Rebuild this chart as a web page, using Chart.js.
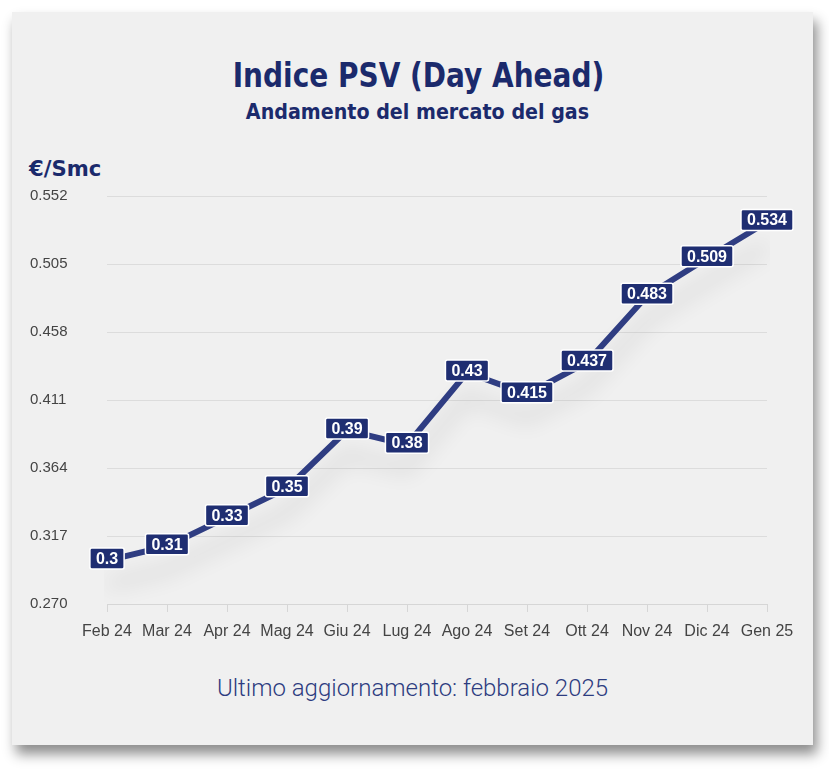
<!DOCTYPE html>
<html>
<head>
<meta charset="utf-8">
<script src="https://cdn.jsdelivr.net/npm/chart.js@4/dist/chart.umd.min.js"></script>
<style>
  body { margin: 0; background: #fff; width: 829px; height: 770px; overflow: hidden; }
  #card { position: absolute; left: 12px; top: 12px; width: 801px; height: 733px; background: #f0f0f0;
          box-shadow: 4px 9px 12px rgba(0,0,0,0.45); }
  .t { position: absolute; white-space: nowrap; color: #1b2a6c; }
  #title { left: 6px; width: 801px; text-align: center; top: 46px; font: bold 34px/34px "DejaVu Sans Condensed";
           transform: scaleX(0.915); }
  #subtitle { left: 5px; width: 801px; text-align: center; top: 89px; font: bold 22px/22px "DejaVu Sans Condensed";
              transform: scaleX(0.965); }
  #unit { left: 17px; top: 147px; font: bold 21px/21px "DejaVu Sans Condensed"; transform-origin: 0 0; transform: scaleX(1.12); }
  #footer { left: 0; width: 801px; text-align: center; top: 664px; font: 300 24px/24px Roboto; color: #2d3c80; }
  #chart { position: absolute; left: 0; top: 168px; }
</style>
</head>
<body>
<div id="card">
  <div class="t" id="title">Indice PSV (Day Ahead)</div>
  <div class="t" id="subtitle">Andamento del mercato del gas</div>
  <div class="t" id="unit">€/Smc</div>
  <canvas id="chart" width="800" height="470"></canvas>
  <div class="t" id="footer">Ultimo aggiornamento: febbraio 2025</div>
</div>
<script>
// dati
const mesi = ["Feb 24", "Mar 24", "Apr 24", "Mag 24", "Giu 24", "Lug 24", "Ago 24", "Set 24", "Ott 24", "Nov 24", "Dic 24", "Gen 25"];
const psv = [0.3, 0.31, 0.33, 0.35, 0.39, 0.38, 0.43, 0.415, 0.437, 0.483, 0.509, 0.534];
const yTicks = [0.270, 0.317, 0.364, 0.411, 0.458, 0.505, 0.552];

// ombra sotto la linea
const lineShadow = {
  id: 'lineShadow',
  beforeDatasetsDraw(chart) {
    const ctx = chart.ctx;
    ctx.save();
    ctx.shadowColor = 'rgba(0,0,0,0.16)';
    ctx.shadowBlur = 22;
    ctx.shadowOffsetY = 24;
  },
  afterDatasetsDraw(chart) {
    chart.ctx.restore();
  }
};

// etichette dei valori
const valueLabels = {
  id: 'valueLabels',
  afterDraw(chart) {
    const ctx = chart.ctx;
    const meta = chart.getDatasetMeta(0);
    ctx.save();
    ctx.font = 'bold 16px "Liberation Sans", Arial, sans-serif';
    ctx.textAlign = 'center';
    ctx.textBaseline = 'middle';
    meta.data.forEach((pt, i) => {
      const txt = String(psv[i]);
      const w = ctx.measureText(txt).width + 12;
      const h = 21;
      const cy = pt.y - 2;
      ctx.beginPath();
      ctx.roundRect(pt.x - w / 2, cy - h / 2, w, h, 2);
      ctx.fillStyle = '#1f2e72';
      ctx.fill();
      ctx.lineWidth = 1.5;
      ctx.strokeStyle = '#ffffff';
      ctx.stroke();
      ctx.fillStyle = '#ffffff';
      ctx.fillText(txt, pt.x, cy + 1);
    });
    ctx.restore();
  }
};

new Chart(document.getElementById("chart"), {
  type: 'line',
  data: {
    labels: mesi,
    datasets: [{
      data: psv,
      borderColor: '#2f3d82',
      borderWidth: 6,
      pointRadius: 0,
      tension: 0,
      fill: false
    }]
  },
  options: {
    responsive: false,
    devicePixelRatio: 1,
    animation: false,
    layout: { padding: { left: 18, right: 45, top: 16, bottom: 0 } },
    plugins: { legend: { display: false }, tooltip: { enabled: false } },
    scales: {
      x: {
        grid: { drawOnChartArea: false, drawTicks: true, tickLength: 8, color: '#d6d6d6' },
        border: { display: true, color: '#d6d6d6' },
        ticks: { padding: 10, color: '#444', font: { size: 16, family: '"Liberation Sans", Arial, sans-serif' }, maxRotation: 0 },
        afterFit(scale) { scale.height = 46; }
      },
      y: {
        min: yTicks[0],
        max: yTicks[yTicks.length - 1],
        afterBuildTicks(scale) { scale.ticks = yTicks.map(v => ({ value: v })); },
        grid: { drawTicks: false, color: '#dcdcdc' },
        border: { display: false },
        ticks: {
          crossAlign: 'far',
          color: '#444',
          font: { size: 15, family: '"Liberation Sans", Arial, sans-serif' },
          callback: v => v.toFixed(3)
        },
        afterFit(scale) { scale.width = 77; }
      }
    }
  },
  plugins: [lineShadow, valueLabels]
});
</script>
</body>
</html>
